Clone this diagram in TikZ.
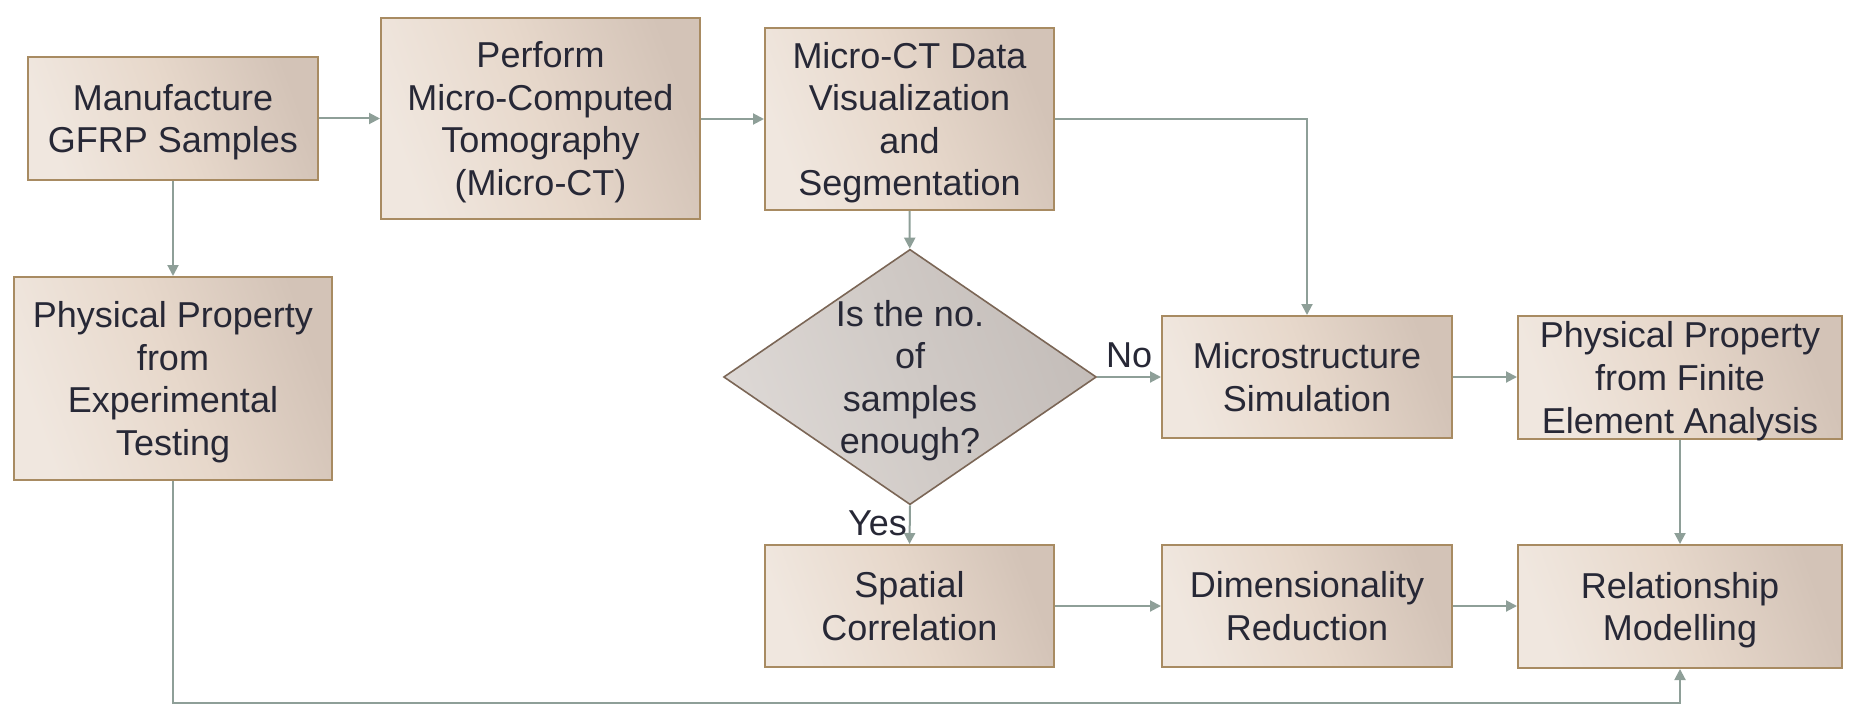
\documentclass[tikz,border=0pt]{standalone}
\usepackage{fontspec}
\setmainfont{Liberation Sans}
\usetikzlibrary{shapes.geometric,arrows.meta,positioning}
\definecolor{box light}{HTML}{F0E7DF}
\definecolor{box mid}{HTML}{E7D8CB}
\definecolor{box dark}{HTML}{D3C3B7}
\definecolor{box edge}{HTML}{A88B62}
\definecolor{dia light}{HTML}{DDD8D5}
\definecolor{dia mid}{HTML}{D0CAC6}
\definecolor{dia dark}{HTML}{C4BDB9}
\definecolor{dia edge}{HTML}{7B6656}
\definecolor{flow grey}{HTML}{8E9F98}
\definecolor{ink}{HTML}{272836}

\begin{document}
\begin{tikzpicture}[x=0.5pt, y=-0.5pt,
		stage/.style={draw=box edge, line width=1pt,
			left color=box light, right color=box dark, middle color=box mid,
			shading angle=110, text=ink, align=center, inner sep=0pt,
			text depth=0pt, font=\fontsize{18}{21.3}\selectfont},
		decision/.style={diamond, aspect=1.46, draw=dia edge, line width=0.8pt,
			left color=dia light, right color=dia dark, middle color=dia mid,
			shading angle=110, text=ink, align=center, inner sep=0pt,
			text depth=0pt, font=\fontsize{18}{21.3}\selectfont},
		flow/.style={draw=flow grey, line width=1pt,
			-{Triangle[width=5.5pt, length=5.5pt]}},
		tag/.style={text=ink, font=\fontsize{18}{21.3}\selectfont, inner sep=0pt}]
		\useasboundingbox (0, 0) rectangle (1857, 717);
		% top row
		\node[stage, minimum width=145pt, minimum height=61.5pt] (mfg) at (173, 118.5)
			{Manufacture\\GFRP Samples};
		\node[stage, minimum width=159.5pt, minimum height=100.5pt] (microct) at (540.5, 118.5)
			{Perform\\Micro-Computed\\Tomography\\(Micro-CT)};
		\node[stage, minimum width=144.5pt, minimum height=91pt] (seg) at (909.5, 119)
			{Micro-CT Data\\Visualization\\and\\Segmentation};
		% left column
		\node[stage, minimum width=159pt, minimum height=101.5pt] (exptest) at (173, 378.5)
			{Physical Property\\from\\Experimental\\Testing};
		% middle row
		\node[decision] (enough) at (910, 377)
			{Is the no.\\of\\samples\\enough?};
		\node[stage, minimum width=145pt, minimum height=61pt] (microsim) at (1307, 377)
			{Microstructure\\Simulation};
		\node[stage, minimum width=162pt, minimum height=61.5pt] (fea) at (1680, 377.5)
			{Physical Property\\from Finite\\Element Analysis};
		% bottom row
		\node[stage, minimum width=144.5pt, minimum height=61pt] (spatial) at (909.5, 606)
			{Spatial\\Correlation};
		\node[stage, minimum width=145pt, minimum height=61pt] (dimred) at (1307, 606)
			{Dimensionality\\Reduction};
		\node[stage, minimum width=162pt, minimum height=61.5pt] (relmod) at (1680, 606.5)
			{Relationship\\Modelling};
		\coordinate (corner) at (173, 703);
		% connectors
		\draw[flow] (mfg) -- (microct);
		\draw[flow] (mfg) -- (exptest);
		\draw[flow] (microct.east |- seg.west) -- (seg.west);
		\draw[flow] (seg.east) -| (microsim.north);
		\draw[flow] (seg) -- (enough);
		\draw[flow] (enough.east) -- node[tag, above=4pt] {No} (microsim.west);
		\draw[flow] (enough.south) -- node[tag, left=1pt, pos=0.45] {Yes} (spatial.north);
		\draw[flow] (microsim.east) -- (microsim.east -| fea.west);
		\draw[flow] (fea) -- (relmod);
		\draw[flow] (spatial) -- (dimred);
		\draw[flow] (dimred) -- (dimred -| relmod.west);
		\draw[flow] (exptest.south) -- (corner) -| (relmod.south);
	\end{tikzpicture}
\end{document}
